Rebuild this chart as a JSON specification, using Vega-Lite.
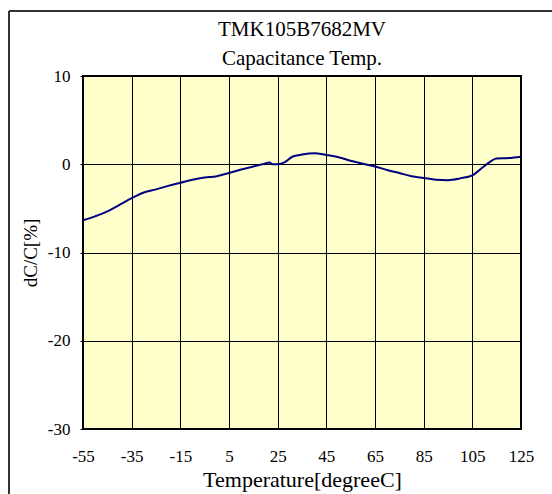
{
  "$schema": "https://vega.github.io/schema/vega-lite/v6.json",
  "width": 438,
  "height": 353,
  "autosize": {"type": "none"},
  "padding": {"left": 83, "top": 76, "right": 31, "bottom": 65},
  "background": "#ffffff",
  "config": {
    "font": "Liberation Serif",
    "view": {"fill": "#FFFFCC", "stroke": "#000000", "strokeWidth": 2},
    "axis": {
      "labelFont": "Liberation Serif",
      "titleFont": "Liberation Serif",
      "labelColor": "#000000",
      "titleColor": "#000000",
      "labelFontSize": 17,
      "titleFontSize": 19,
      "titleFontWeight": "normal",
      "gridColor": "#000000",
      "gridOpacity": 1,
      "gridWidth": 1,
      "domain": false,
      "tickColor": "#000000"
    },
    "title": {
      "font": "Liberation Serif",
      "fontSize": 21,
      "fontWeight": "normal",
      "color": "#000000",
      "subtitleFont": "Liberation Serif",
      "subtitleFontSize": 21,
      "subtitleColor": "#000000",
      "subtitlePadding": 8
    }
  },
  "title": {
    "text": "TMK105B7682MV",
    "subtitle": "Capacitance Temp.",
    "offset": -59,
    "anchor": "middle"
  },
  "data": {
    "values": [
      {"T": -55, "dC": -6.35},
      {"T": -50, "dC": -5.9},
      {"T": -45, "dC": -5.35},
      {"T": -40, "dC": -4.6},
      {"T": -35, "dC": -3.85},
      {"T": -30, "dC": -3.2},
      {"T": -25, "dC": -2.85},
      {"T": -20, "dC": -2.45},
      {"T": -15, "dC": -2.1},
      {"T": -10, "dC": -1.75},
      {"T": -5, "dC": -1.5},
      {"T": 0, "dC": -1.35},
      {"T": 5, "dC": -1.0},
      {"T": 10, "dC": -0.6},
      {"T": 15, "dC": -0.25},
      {"T": 20, "dC": 0.1},
      {"T": 21.5, "dC": 0.2},
      {"T": 23, "dC": 0.0},
      {"T": 25, "dC": 0.0},
      {"T": 28, "dC": 0.25},
      {"T": 31, "dC": 0.85},
      {"T": 35, "dC": 1.1},
      {"T": 40, "dC": 1.25},
      {"T": 45, "dC": 1.05},
      {"T": 50, "dC": 0.8},
      {"T": 55, "dC": 0.4},
      {"T": 60, "dC": 0.05},
      {"T": 65, "dC": -0.25},
      {"T": 70, "dC": -0.65},
      {"T": 75, "dC": -1.0},
      {"T": 80, "dC": -1.35},
      {"T": 85, "dC": -1.55},
      {"T": 90, "dC": -1.75},
      {"T": 95, "dC": -1.8},
      {"T": 100, "dC": -1.6},
      {"T": 105, "dC": -1.25},
      {"T": 110, "dC": -0.2},
      {"T": 115, "dC": 0.65},
      {"T": 120, "dC": 0.7},
      {"T": 125, "dC": 0.85}
    ]
  },
  "layer": [
    {
      "mark": {"type": "line", "color": "#000080", "strokeWidth": 2, "interpolate": "monotone"},
      "encoding": {
        "x": {
          "field": "T",
          "type": "quantitative",
          "scale": {"domain": [-55, 125], "nice": false, "zero": false},
          "axis": {
            "values": [-55, -35, -15, 5, 25, 45, 65, 85, 105, 125],
            "labelExpr": "'' + datum.value",
            "ticks": false,
            "labelPadding": 19,
            "title": "Temperature[degreeC]",
            "titleFontSize": 22,
            "titlePadding": 5,
            "labelFlush": false
          }
        },
        "y": {
          "field": "dC",
          "type": "quantitative",
          "scale": {"domain": [-30, 10], "nice": false, "zero": false},
          "axis": {
            "values": [-30, -20, -10, 0, 10],
            "labelExpr": "'' + datum.value",
            "tickSize": 3,
            "labelPadding": 10,
            "title": "dC/C[%]",
            "titlePadding": 7,
            "labelFlush": false
          }
        }
      }
    },
    {
      "mark": {"type": "rule", "color": "#333333", "strokeWidth": 1.5},
      "encoding": {
        "x": {"datum": -85.4, "type": "quantitative"},
        "y": {"datum": 17.36, "type": "quantitative"},
        "y2": {"datum": -38}
      }
    },
    {
      "mark": {"type": "rule", "color": "#333333", "strokeWidth": 1.5},
      "encoding": {
        "x": {"datum": -85.4, "type": "quantitative"},
        "x2": {"datum": 145},
        "y": {"datum": 17.36, "type": "quantitative"}
      }
    }
  ]
}
